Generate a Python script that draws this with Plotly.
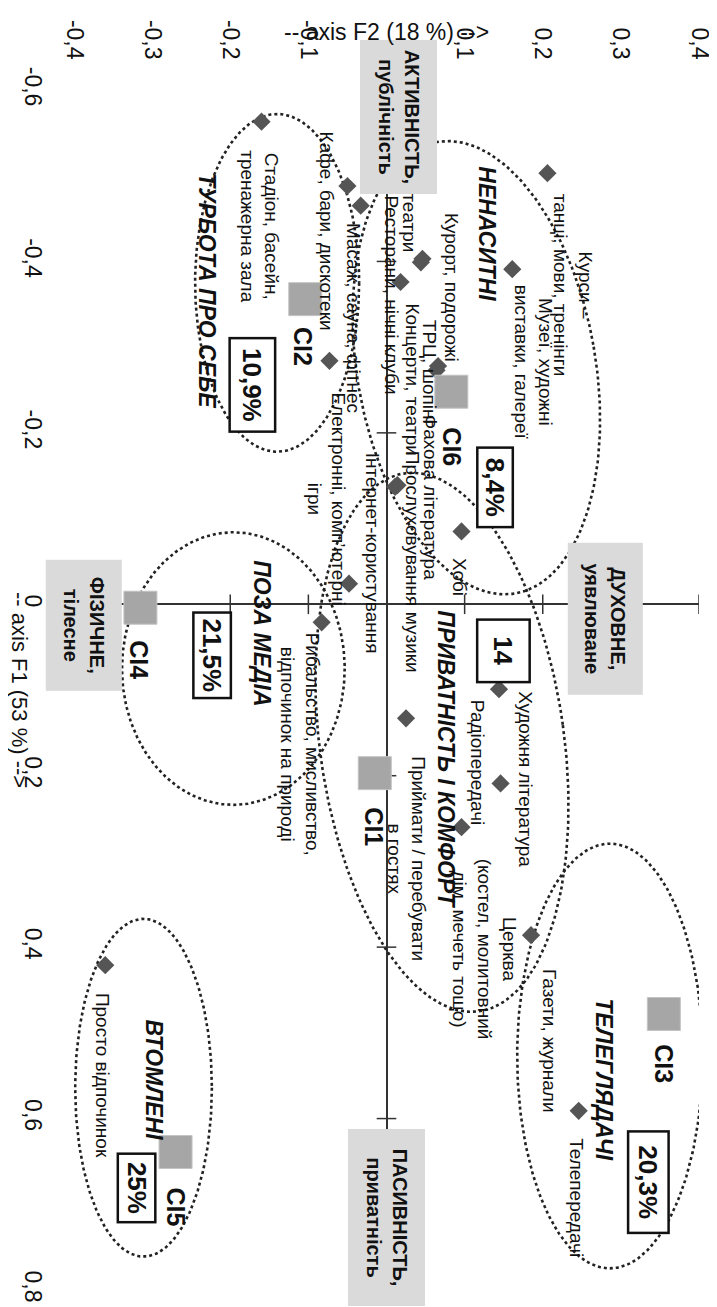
import numpy as np
import plotly.graph_objects as go

# ---------------------------------------------------------------------------
# Data: activity points (F1, F2 coordinates of the correspondence map)
# ---------------------------------------------------------------------------
activities = [
    "Курси –<br>танці, мови, тренінги",
    "Музеї, художні<br>виставки, галереї",
    "Курорт, подорожі",
    "ТРЦ, шопінг",
    "Кіно, театри",
    "Концерти, театри",
    "Ресторани, нічні клуби",
    "Кафе, бари, дискотеки",
    "Стадіон, басейн,<br>тренажерна зала",
    "Масаж, сауна, фітнес",
    "Електронні, комп’ютерні<br>ігри",
    "Прослуховування музики",
    "Фахова література",
    "Хобі",
    "Інтернет-користування",
    "Рибальство, мисливство,<br>відпочинок на природі",
    "Художня література",
    "Радіопередачі",
    "Приймати / перебувати<br>в гостях",
    "Церква<br>(костел, молитовний<br>дім, мечеть тощо)",
    "Газети, журнали",
    "Телепередачі",
    "Просто відпочинок",
]
f1_act = [-0.503, -0.391, -0.278, -0.273, -0.403, -0.399, -0.376, -0.488,
          -0.563, -0.465, -0.284, -0.137, -0.139, -0.085, -0.024, 0.021,
          0.099, 0.209, 0.133, 0.260, 0.386, 0.591, 0.421]
f2_act = [0.206, 0.161, 0.066, 0.064, 0.046, 0.044, 0.018, -0.050,
          -0.160, -0.033, -0.073, 0.011, 0.014, 0.096, -0.048, -0.083,
          0.144, 0.146, 0.025, 0.096, 0.185, 0.246, -0.360]

# Cluster centroids
clusters = ["CI1", "CI2", "CI3", "CI4", "CI5", "CI6"]
cluster_names = ["ПРИВАТНІСТЬ І КОМФОРТ", "ТУРБОТА ПРО СЕБЕ", "ТЕЛЕГЛЯДАЧІ",
                 "ПОЗА МЕДІА", "ВТОМЛЕНІ", "НЕНАСИТНІ"]
cluster_share = ["14", "10,9%", "20,3%", "21,5%", "25%", "8,4%"]
f1_cl = [0.197, -0.356, 0.478, 0.004, 0.639, -0.248]
f2_cl = [-0.015, -0.104, 0.355, -0.315, -0.270, 0.083]

# Axis ticks
f1_ticks = [-0.6, -0.4, -0.2, 0, 0.2, 0.4, 0.6, 0.8]
f1_ticktext = ["-0,6", "-0,4", "-0,2", "0", "0,2", "0,4", "0,6", "0,8"]
f2_ticks = [-0.4, -0.3, -0.2, -0.1, 0, 0.1, 0.2, 0.3, 0.4]
f2_ticktext = ["-0,4", "-0,3", "-0,2", "-0,1", "0", "0,1", "0,2", "0,3", "0,4"]

# ---------------------------------------------------------------------------
# Layout / style (the chart is shown turned 90° clockwise)
# ---------------------------------------------------------------------------
W, H = 717, 1307
M = dict(l=63, r=14, t=76, b=16)
F2_RANGE = [-0.4, 0.4]
F1_RANGE = [0.8, -0.6]          # F1 grows downwards
PX2 = (W - M["l"] - M["r"]) / (F2_RANGE[1] - F2_RANGE[0])
PX1 = (H - M["t"] - M["b"]) / (F1_RANGE[0] - F1_RANGE[1])

FONT = "Liberation Sans, Arial, sans-serif"
INK = "#111111"
DIAMOND = "#555555"
SQUARE = "#a6a6a6"
BOXGRAY = "#dadada"

# label centre offsets from each point, in pixels (right, down)
act_offsets = [(25, 112), (21, 93), (14, -79), (-7, 3), (-13, -59), (-8, 117),
               (-9, 13), (-20, 45), (-2, 104), (-7, 112), (-3, 138), (17, 75),
               (33, 12), (-2, 45), (23, -31), (-22, 122), (27, 90), (-23, -21),
               (0, 140), (23, 122), (19, 105), (-3, 87), (-2, 110)]
ci_offsets = [(-1, 54), (-2, 47), (0, 50), (-1, 52), (0, 55), (1, 55)]
name_offsets = [(71, -14), (-98, -9), (-60, 66), (122, 26), (-22, -72), (36, -158)]
share_offsets = [(129, -122), (-53, 86), (-15, 168), (72, 48), (-39, 36), (44, 96)]
share_sizes = [(65, 55), (96, 48), (104, 43), (88, 40), (71, 40), (82, 38)]  # (along text, across)

# dotted cluster outlines: centre (f2, f1), radii px (across, along), tilt deg
outlines = [
    (0.071, 0.161, 125, 275, 8),     # ПРИВАТНІСТЬ І КОМФОРТ
    (-0.140, -0.375, 84, 171, 0),    # ТУРБОТА ПРО СЕБЕ
    (0.286, 0.527, 95, 215, 0),      # ТЕЛЕГЛЯДАЧІ
    (-0.196, 0.075, 114, 138, 0),    # ПОЗА МЕДІА
    (-0.311, 0.564, 70, 171, 0),     # ВТОМЛЕНІ
    (0.115, -0.276, 122, 232, 10),   # НЕНАСИТНІ
]

fig = go.Figure()

t = np.linspace(0, 2 * np.pi, 241)
for cx, cy, rx, ry, tilt in outlines:
    th = np.radians(tilt)
    ex, ey = rx * np.cos(t), ry * np.sin(t)
    px = ex * np.cos(th) + ey * np.sin(th)
    py = -ex * np.sin(th) + ey * np.cos(th)
    fig.add_trace(go.Scatter(
        x=cx + px / PX2, y=cy + py / PX1, mode="lines",
        line=dict(color="#222222", width=2.6, dash="dot"),
        hoverinfo="skip", showlegend=False))

# tick marks on the axes through the origin
fig.add_trace(go.Scatter(
    x=[v for v in f2_ticks if v != 0], y=[0] * (len(f2_ticks) - 1),
    mode="markers", hoverinfo="skip", showlegend=False,
    marker=dict(symbol="line-ns", size=14, line=dict(color="#333333", width=1.5))))
fig.add_trace(go.Scatter(
    x=[0] * (len(f1_ticks) - 1), y=[v for v in f1_ticks if v != 0],
    mode="markers", hoverinfo="skip", showlegend=False,
    marker=dict(symbol="line-ew", size=14, line=dict(color="#333333", width=1.5))))

fig.add_trace(go.Scatter(
    x=f2_act, y=f1_act, mode="markers", text=activities, hoverinfo="text",
    showlegend=False,
    marker=dict(symbol="diamond", size=14, color=DIAMOND, line=dict(width=0))))
fig.add_trace(go.Scatter(
    x=f2_cl, y=f1_cl, mode="markers", text=clusters, hoverinfo="text",
    showlegend=False,
    marker=dict(symbol="square", size=33, color=SQUARE,
                line=dict(color="#c4c4c4", width=1))))


def note(x, y, text, dx=0, dy=0, size=18, **kw):
    fig.add_annotation(x=x, y=y, text=text, showarrow=False, textangle=90,
                       xshift=dx, yshift=-dy, xanchor="center", yanchor="middle",
                       font=dict(family=FONT, size=size, color=INK), **kw)


for lab, a, b, (dx, dy) in zip(activities, f2_act, f1_act, act_offsets):
    note(a, b, lab, dx, dy, size=19, align="center")

for i in range(len(clusters)):
    a, b = f2_cl[i], f1_cl[i]
    note(a, b, "<b>%s</b>" % clusters[i], *ci_offsets[i], size=25)
    note(a, b, "<b><i>%s</i></b>" % cluster_names[i], *name_offsets[i], size=23)
    w, h = share_sizes[i]
    note(a, b, "<b>%s</b>" % cluster_share[i], *share_offsets[i], size=26,
         bgcolor="white", bordercolor=INK, borderwidth=2.5, borderpad=0,
         width=w - 5, height=h - 5)

# pole boxes at the ends of the axes
poles = [
    (0, -0.6, "<b>АКТИВНІСТЬ,<br>публічність</b>", 12, 27, 153, 76),
    (0, 0.8, "<b>ПАСИВНІСТЬ,<br>приватність</b>", 0, -73, 176, 76),
    (-0.4, 0, "<b>ФІЗИЧНЕ,<br>тілесне</b>", 10, 21, 130, 75),
    (0.4, 0, "<b>ДУХОВНЕ,<br>уявлюване</b>", -94, 14, 151, 74),
]
for a, b, txt, dx, dy, w, h in poles:
    note(a, b, txt, dx, dy, size=20, bgcolor=BOXGRAY, borderpad=0,
         width=w, height=h)

# axis titles
fig.add_annotation(x=0, xref="x", y=1, yref="paper", yshift=58,
                   xanchor="center", yanchor="middle",
                   text="-- axis F2 (18 %) -->", showarrow=False,
                   font=dict(family=FONT, size=23, color=INK))
fig.add_annotation(x=0, xref="paper", xshift=-54, y=0.1, yref="y",
                   xanchor="center", yanchor="middle",
                   text="-- axis F1 (53 %) -->", showarrow=False, textangle=90,
                   font=dict(family=FONT, size=22, color=INK))

fig.update_layout(
    width=W, height=H, margin=M,
    paper_bgcolor="white", plot_bgcolor="white",
    font=dict(family=FONT, color=INK),
    showlegend=False,
    xaxis=dict(range=F2_RANGE, side="top", tickvals=f2_ticks, ticktext=f2_ticktext,
               tickangle=90, tickfont=dict(size=23, color=INK), showgrid=False,
               zeroline=True, zerolinecolor="#333333", zerolinewidth=1.5,
               showline=False, ticks="", ticklabelstandoff=26, fixedrange=True),
    yaxis=dict(range=F1_RANGE, tickvals=f1_ticks, ticktext=f1_ticktext,
               tickangle=90, tickfont=dict(size=23, color=INK), showgrid=False,
               zeroline=True, zerolinecolor="#333333", zerolinewidth=1.5,
               showline=False, ticks="", ticklabelstandoff=25, fixedrange=True),
)

fig.write_html("out.html")
